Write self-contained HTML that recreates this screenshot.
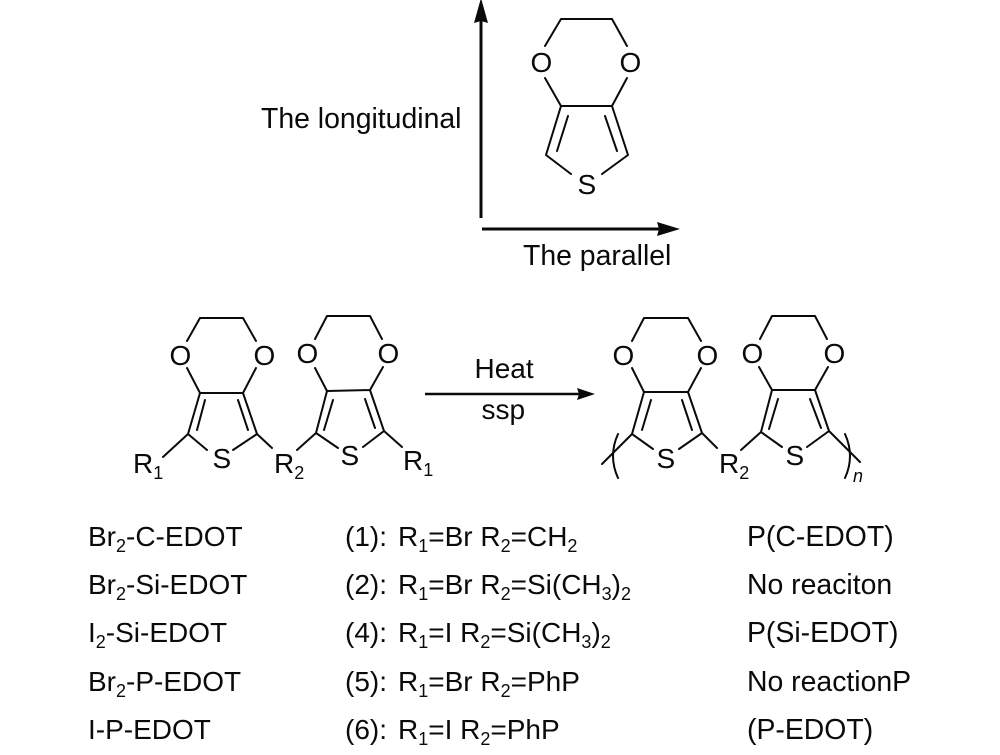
<!DOCTYPE html>
<html><head><meta charset="utf-8"><style>
html,body{margin:0;padding:0;background:#fff}
svg{display:block}
text{font-family:"Liberation Sans",sans-serif;font-size:28px;fill:#0a0a0a}
.w{font-size:28.4px}
.l{stroke:#0a0a0a;stroke-width:2;fill:none;stroke-linecap:round;stroke-linejoin:round}
</style></head><body>
<svg width="1000" height="755" viewBox="0 0 1000 755" xmlns="http://www.w3.org/2000/svg">
<!-- axes -->
<path d="M481 218V18" stroke="#0a0a0a" stroke-width="3" fill="none"/>
<path d="M481 -2L488 23L481 21L474 23Z" fill="#0a0a0a"/>
<path d="M482 229H662" stroke="#0a0a0a" stroke-width="3" fill="none"/>
<path d="M680 229L657 222L659 229L657 236Z" fill="#0a0a0a"/>
<text class="w" x="261" y="128">The longitudinal</text>
<text class="w" x="523" y="265">The parallel</text>
<!-- top EDOT -->
<path class="l" d="M545 46L561 19H612L627 46M545 78L561 106H612L627 78M561 106L546 155L571 174M612 106L628 155L602 174M568 116L557 151M605 116L617 151"/>
<text x="530.500" y="72">O</text><text x="619.500" y="72">O</text><text x="577.500" y="194">S</text>
<!-- Mol A -->
<path class="l" d="M187 341L200 318H243L256 341M187 368L200 393H243L256 368M200 393L188 434L207 450M243 393L257 434L233 450M205 400L197 430M238 400L248 430M188 434L163 457M257 434L272 448"/>
<text x="169.500" y="365">O</text><text x="253.500" y="365">O</text><text x="212.500" y="468">S</text>
<text x="133" y="473">R<tspan font-size="18" dy="6">1</tspan></text>
<text x="274" y="473">R<tspan font-size="18" dy="6">2</tspan></text>
<!-- Mol B -->
<path class="l" d="M315 339L327 316H370L382 339M315 368L327 391L370 390L383 367M327 391L316 433L338 448M370 390L384 431L363 447M333 400L324 430M365 399L375 428M297 450L316 433M384 431L402 447"/>
<text x="296.500" y="363">O</text><text x="377.500" y="363">O</text><text x="340.500" y="465">S</text>
<text x="403" y="470">R<tspan font-size="18" dy="6">1</tspan></text>
<!-- reaction arrow -->
<path d="M425 394H580" stroke="#0a0a0a" stroke-width="2.500" fill="none"/>
<path d="M595 394L577 388L579 394L577 400Z" fill="#0a0a0a"/>
<text x="474.500" y="378">Heat</text>
<text x="481.500" y="419">ssp</text>
<!-- Mol C -->
<path class="l" d="M632 341L644 318H688L701 341M632 368L644 392H688L701 368M644 392L632 434L653 449M688 392L702 433L679 449M651 400L642 430M682 400L692 430M632 434L602 464M702 433L717 448"/>
<text x="612.500" y="365">O</text><text x="696.500" y="365">O</text><text x="656.500" y="468">S</text>
<text x="719" y="473">R<tspan font-size="18" dy="6">2</tspan></text>
<path class="l" d="M618 434Q608 456 618 478M845 434Q855 456 845 478"/>
<!-- Mol D -->
<path class="l" d="M760 339L772 316H815L827 339M759 367L772 390H815L828 367M772 390L761 432L782 447M815 390L829 431L807 447M778 399L769 429M810 399L821 428M761 432L741 450M829 431L860 462"/>
<text x="741.500" y="363">O</text><text x="823.500" y="363">O</text><text x="785.500" y="465">S</text>
<text x="853" y="482" style="font-size:18px;font-style:italic">n</text>
<!-- table left -->
<text x="88" y="546">Br<tspan font-size="18" dy="6">2</tspan><tspan dy="-6">-C-EDOT</tspan></text>
<text x="88" y="594">Br<tspan font-size="18" dy="6">2</tspan><tspan dy="-6">-Si-EDOT</tspan></text>
<text x="88" y="642">I<tspan font-size="18" dy="6">2</tspan><tspan dy="-6">-Si-EDOT</tspan></text>
<text x="88" y="691">Br<tspan font-size="18" dy="6">2</tspan><tspan dy="-6">-P-EDOT</tspan></text>
<text x="88" y="739">I-P-EDOT</text>
<!-- table middle -->
<text x="345" y="546">(1): <tspan x="398">R</tspan><tspan font-size="18" dy="6">1</tspan><tspan dy="-6">=Br R</tspan><tspan font-size="18" dy="6">2</tspan><tspan dy="-6">=CH</tspan><tspan font-size="18" dy="6">2</tspan></text>
<text x="345" y="594">(2): <tspan x="398">R</tspan><tspan font-size="18" dy="6">1</tspan><tspan dy="-6">=Br R</tspan><tspan font-size="18" dy="6">2</tspan><tspan dy="-6">=Si(CH</tspan><tspan font-size="18" dy="6">3</tspan><tspan dy="-6">)</tspan><tspan font-size="18" dy="6">2</tspan></text>
<text x="345" y="642">(4): <tspan x="398">R</tspan><tspan font-size="18" dy="6">1</tspan><tspan dy="-6">=I R</tspan><tspan font-size="18" dy="6">2</tspan><tspan dy="-6">=Si(CH</tspan><tspan font-size="18" dy="6">3</tspan><tspan dy="-6">)</tspan><tspan font-size="18" dy="6">2</tspan></text>
<text x="345" y="691">(5): <tspan x="398">R</tspan><tspan font-size="18" dy="6">1</tspan><tspan dy="-6">=Br R</tspan><tspan font-size="18" dy="6">2</tspan><tspan dy="-6">=PhP</tspan></text>
<text x="345" y="739">(6): <tspan x="398">R</tspan><tspan font-size="18" dy="6">1</tspan><tspan dy="-6">=I R</tspan><tspan font-size="18" dy="6">2</tspan><tspan dy="-6">=PhP</tspan></text>
<!-- table right -->
<text class="w" x="747" y="546">P(C-EDOT)</text>
<text class="w" x="747" y="594">No reaciton</text>
<text class="w" x="747" y="642">P(Si-EDOT)</text>
<text class="w" x="747" y="691">No reactionP</text>
<text class="w" x="747" y="739">(P-EDOT)</text>
</svg>
</body></html>
